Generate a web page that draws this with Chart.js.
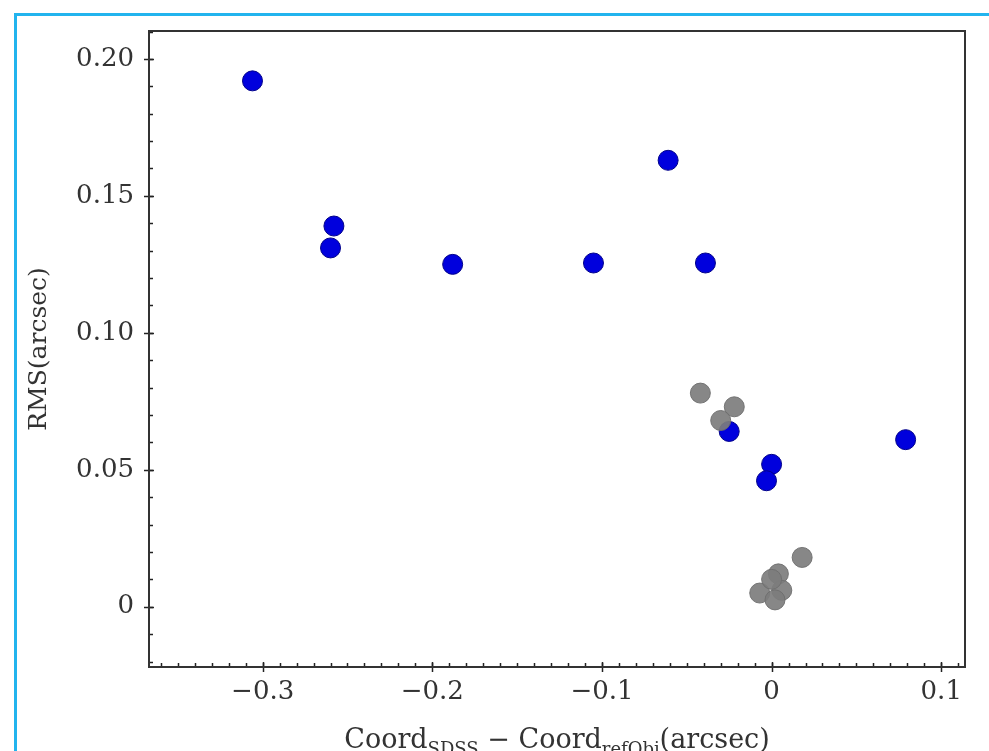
<!DOCTYPE html>
<html>
<head>
<meta charset="utf-8">
<script src="https://cdn.jsdelivr.net/npm/chart.js@4"></script>
<style>
    html, body { margin: 0; padding: 0; background: #fff; overflow: hidden; }
    #wrap { position: relative; width: 989px; height: 751px; }
    #frame {
        position: absolute; left: 14px; top: 13px;
        width: 1000px; height: 800px;
        border: 3px solid #22b4ee;
        pointer-events: none;
    }
</style>
</head>
<body>
<div id="wrap">
    <canvas id="rmsChart" width="989" height="751"></canvas>
    <div id="frame"></div>
</div>
<script>
// 데이터
const blueX = [-0.306, -0.258, -0.260, -0.188, -0.105, -0.061, -0.039, -0.025, 0.000, -0.003, 0.079];
const blueY = [0.192, 0.139, 0.131, 0.125, 0.1255, 0.163, 0.1255, 0.064, 0.052, 0.046, 0.061];

const grayX = [-0.042, -0.022, -0.030, 0.018, 0.004, 0.006, -0.007, 0.002, 0.000];
const grayY = [0.078, 0.073, 0.068, 0.018, 0.012, 0.006, 0.005, 0.0025, 0.010];

const xTicks = [-0.3, -0.2, -0.1, 0, 0.1];
const yTicks = [0, 0.05, 0.10, 0.15, 0.20];

const X_MIN = -0.367, X_MAX = 0.114;
const Y_MIN = -0.022, Y_MAX = 0.2102;
const MINOR_STEP = 0.01;

const serif = "'DejaVu Serif', 'Liberation Serif', serif";
const textColor = '#333';

function toPoints(xs, ys) {
    return xs.map((x, i) => ({ x: x, y: ys[i] }));
}

// 테두리 + 눈금 + x축 제목 (아래첨자)
const axesPlugin = {
    id: 'axesPlugin',
    afterDraw(chart) {
        const ctx = chart.ctx;
        const a = chart.chartArea;
        const xs = chart.scales.x, ys = chart.scales.y;
        ctx.save();
        ctx.strokeStyle = '#222';
        ctx.lineWidth = 1.5;

        // 작은 눈금
        for (let v = Math.ceil(X_MIN / MINOR_STEP) * MINOR_STEP; v <= X_MAX; v += MINOR_STEP) {
            const px = Math.round(xs.getPixelForValue(v)) + 0.5;
            ctx.beginPath(); ctx.moveTo(px, a.bottom); ctx.lineTo(px, a.bottom - 4); ctx.stroke();
        }
        for (let v = Math.ceil(Y_MIN / MINOR_STEP) * MINOR_STEP; v <= Y_MAX; v += MINOR_STEP) {
            const py = Math.round(ys.getPixelForValue(v)) + 0.5;
            ctx.beginPath(); ctx.moveTo(a.left, py); ctx.lineTo(a.left + 4, py); ctx.stroke();
        }
        // 큰 눈금
        xTicks.forEach(v => {
            const px = Math.round(xs.getPixelForValue(v)) + 0.5;
            ctx.beginPath(); ctx.moveTo(px, a.bottom + 5); ctx.lineTo(px, a.bottom - 5); ctx.stroke();
        });
        yTicks.forEach(v => {
            const py = Math.round(ys.getPixelForValue(v)) + 0.5;
            ctx.beginPath(); ctx.moveTo(a.left - 5, py); ctx.lineTo(a.left + 5, py); ctx.stroke();
        });

        // 외곽선
        ctx.strokeStyle = '#333';
        ctx.lineWidth = 2;
        ctx.strokeRect(a.left, a.top, a.right - a.left, a.bottom - a.top);

        // x축 제목
        const parts = [
            { t: 'Coord', size: 27, dy: 0 },
            { t: 'SDSS', size: 18, dy: 7 },
            { t: ' \u2212 ', size: 27, dy: 0 },
            { t: 'Coord', size: 27, dy: 0 },
            { t: 'refObj', size: 18, dy: 7 },
            { t: '(arcsec)', size: 27, dy: 0 }
        ];
        let total = 0;
        parts.forEach(p => {
            ctx.font = p.size + 'px ' + serif;
            p.w = ctx.measureText(p.t).width;
            total += p.w;
        });
        let cx = (a.left + a.right) / 2 - total / 2;
        const baseY = 748;
        ctx.fillStyle = textColor;
        ctx.textBaseline = 'alphabetic';
        ctx.textAlign = 'left';
        parts.forEach(p => {
            ctx.font = p.size + 'px ' + serif;
            ctx.fillText(p.t, cx, baseY + p.dy);
            cx += p.w;
        });
        ctx.restore();
    }
};

function fmtX(v) {
    if (Math.abs(v) < 1e-9) return '0';
    return v.toFixed(1).replace('-', '\u2212');
}
function fmtY(v) {
    if (Math.abs(v) < 1e-9) return '0';
    return v.toFixed(2);
}

document.addEventListener('DOMContentLoaded', function() {
    new Chart(document.getElementById('rmsChart'), {
        type: 'scatter',
        data: {
            datasets: [{
                label: 'gray',
                data: toPoints(grayX, grayY),
                backgroundColor: 'rgba(125, 125, 125, 0.92)',
                borderColor: 'rgba(110, 110, 110, 0.92)',
                borderWidth: 1,
                pointRadius: 10,
                order: 0
            }, {
                label: 'blue',
                data: toPoints(blueX, blueY),
                backgroundColor: '#0000dd',
                borderColor: '#00008a',
                borderWidth: 1,
                pointRadius: 10,
                order: 1
            }]
        },
        options: {
            responsive: false,
            animation: false,
            layout: {
                padding: { top: 31, right: 24, left: 0, bottom: 0 }
            },
            plugins: {
                legend: { display: false },
                tooltip: { enabled: false }
            },
            scales: {
                x: {
                    type: 'linear',
                    min: X_MIN,
                    max: X_MAX,
                    afterFit: s => { s.height = 84; },
                    afterBuildTicks: s => { s.ticks = xTicks.map(v => ({ value: v })); },
                    grid: { display: false, drawTicks: false },
                    border: { display: false },
                    ticks: {
                        padding: 10,
                        color: textColor,
                        maxRotation: 0,
                        autoSkip: false,
                        font: { family: serif, size: 26 },
                        callback: v => fmtX(v)
                    }
                },
                y: {
                    type: 'linear',
                    min: Y_MIN,
                    max: Y_MAX,
                    afterFit: s => { s.width = 149; },
                    afterBuildTicks: s => { s.ticks = yTicks.map(v => ({ value: v })); },
                    grid: { display: false, drawTicks: false },
                    border: { display: false },
                    ticks: {
                        padding: 15,
                        color: textColor,
                        autoSkip: false,
                        font: { family: serif, size: 26 },
                        callback: v => fmtY(v)
                    },
                    title: {
                        display: true,
                        text: 'RMS(arcsec)',
                        color: textColor,
                        font: { family: serif, size: 25 },
                        padding: { top: 24, bottom: 0 }
                    }
                }
            }
        },
        plugins: [axesPlugin]
    });
});
</script>
</body>
</html>
